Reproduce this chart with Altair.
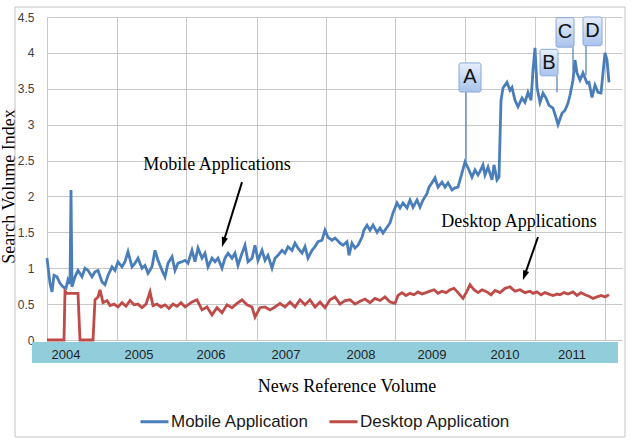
import altair as alt
import pandas as pd

# ---------------- data ----------------
# t = position along the weekly time index, v = Search Volume Index
mobile_t = [47, 50, 52, 54, 57, 60, 63, 66, 68, 70,
            71, 72, 75, 78, 82, 85, 88, 92, 95, 98,
            102, 105, 108, 112, 115, 118, 122, 125, 128, 132,
            135, 138, 142, 145, 148, 152, 155, 158, 162, 165,
            168, 172, 175, 178, 182, 185, 188, 192, 195, 198,
            202, 205, 208, 212, 215, 218, 222, 225, 228, 232,
            235, 238, 242, 245, 248, 252, 255, 258, 262, 265,
            268, 272, 275, 278, 282, 285, 288, 292, 295, 298,
            302, 305, 308, 312, 315, 318, 322, 325, 328, 332,
            335, 338, 340, 343, 347, 349, 352, 355, 358, 362,
            364, 367, 370, 373, 377, 380, 383, 387, 390, 393,
            397, 400, 403, 407, 410, 413, 417, 420, 423, 427,
            429, 432, 435, 438, 442, 445, 448, 452, 455, 458,
            462, 465, 468, 472, 475, 478, 480, 483, 485, 488,
            492, 494, 497, 499, 501, 503, 507, 510, 512, 515,
            518, 522, 525, 528, 531, 533, 535, 537, 540, 543,
            546, 549, 553, 556, 558, 562, 565, 568, 570, 573,
            575, 577, 580, 583, 587, 589, 592, 595, 598, 601,
            603, 605, 607, 609]
mobile_v = [1.14, 0.79, 0.67, 0.90, 0.88, 0.79, 0.74, 0.72, 0.84, 0.78,
            2.09, 0.74, 0.88, 0.97, 0.88, 1.00, 0.97, 0.88, 0.95, 0.97,
            0.81, 0.77, 0.90, 1.02, 0.97, 1.09, 1.02, 1.09, 1.23, 1.02,
            1.07, 1.14, 1.00, 1.04, 0.93, 1.02, 1.25, 1.11, 0.97, 0.88,
            1.07, 1.16, 0.97, 1.07, 1.09, 1.11, 1.07, 1.25, 1.09, 1.28,
            1.14, 1.21, 1.02, 1.14, 1.09, 1.14, 1.00, 1.14, 1.21, 1.14,
            1.21, 1.04, 1.21, 1.32, 1.09, 1.14, 1.32, 1.11, 1.25, 1.11,
            1.18, 1.00, 1.14, 1.18, 1.25, 1.21, 1.30, 1.25, 1.35, 1.28,
            1.21, 1.30, 1.14, 1.25, 1.30, 1.37, 1.39, 1.53, 1.43, 1.39,
            1.42, 1.38, 1.35, 1.32, 1.37, 1.18, 1.35, 1.28, 1.32, 1.43,
            1.53, 1.60, 1.53, 1.60, 1.50, 1.56, 1.49, 1.57, 1.63, 1.77,
            1.91, 1.84, 1.91, 1.84, 1.95, 1.85, 1.95, 1.85, 1.95, 2.04,
            2.13, 2.19, 2.26, 2.13, 2.20, 2.13, 2.19, 2.09, 2.12, 2.13,
            2.33, 2.48, 2.40, 2.27, 2.37, 2.30, 2.35, 2.44, 2.30, 2.41,
            2.23, 2.44, 2.23, 2.27, 3.34, 3.51, 3.59, 3.48, 3.52, 3.34,
            3.25, 3.37, 3.31, 3.45, 3.34, 3.76, 4.07, 3.52, 3.31, 3.44,
            3.37, 3.27, 3.23, 3.10, 3.00, 3.16, 3.20, 3.30, 3.41, 3.62,
            3.90, 3.72, 3.62, 3.72, 3.58, 3.59, 3.38, 3.55, 3.45, 3.44,
            3.72, 4.00, 3.90, 3.59]

desktop_t = [47, 64, 65, 67, 78, 80, 93, 95, 98, 100,
             103, 107, 110, 114, 118, 122, 126, 130, 134, 138,
             142, 146, 150, 153, 157, 161, 165, 169, 173, 177,
             181, 185, 189, 192, 197, 202, 207, 212, 217, 222,
             227, 232, 237, 242, 247, 252, 255, 260, 265, 270,
             275, 280, 285, 290, 295, 300, 305, 310, 315, 320,
             325, 330, 335, 340, 345, 350, 355, 360, 365, 370,
             375, 380, 385, 390, 395, 398, 402, 406, 410, 414,
             418, 422, 426, 430, 434, 438, 442, 446, 450, 454,
             458, 463, 467, 470, 474, 478, 482, 487, 491, 495,
             500, 505, 510, 515, 520, 525, 530, 533, 537, 541,
             545, 549, 553, 557, 560, 564, 568, 573, 577, 581,
             585, 589, 593, 597, 601, 605, 609]
desktop_v = [0.00, 0.00, 0.68, 0.65, 0.65, 0.00, 0.00, 0.56, 0.60, 0.70,
             0.52, 0.55, 0.48, 0.50, 0.46, 0.52, 0.47, 0.55, 0.49, 0.50,
             0.45, 0.50, 0.67, 0.48, 0.50, 0.46, 0.49, 0.44, 0.50, 0.47,
             0.52, 0.46, 0.50, 0.53, 0.56, 0.42, 0.46, 0.35, 0.45, 0.38,
             0.49, 0.45, 0.51, 0.56, 0.49, 0.46, 0.32, 0.45, 0.46, 0.42,
             0.46, 0.51, 0.46, 0.53, 0.46, 0.56, 0.49, 0.56, 0.46, 0.53,
             0.45, 0.56, 0.60, 0.50, 0.55, 0.56, 0.50, 0.54, 0.57, 0.52,
             0.58, 0.55, 0.60, 0.53, 0.51, 0.62, 0.66, 0.62, 0.65, 0.63,
             0.67, 0.64, 0.66, 0.68, 0.70, 0.65, 0.68, 0.66, 0.70, 0.72,
             0.66, 0.58, 0.68, 0.77, 0.70, 0.66, 0.70, 0.67, 0.63, 0.69,
             0.66, 0.72, 0.74, 0.68, 0.70, 0.66, 0.68, 0.65, 0.67, 0.63,
             0.66, 0.64, 0.62, 0.64, 0.63, 0.66, 0.64, 0.67, 0.62, 0.66,
             0.63, 0.61, 0.58, 0.60, 0.62, 0.60, 0.63]

series_names = ["Mobile Application", "Desktop Application"]
series_colors = ["#4a7ebb", "#be4b48"]

years = ["2004", "2005", "2006", "2007", "2008", "2009", "2010", "2011"]
year_t = [66, 139, 211, 286, 361, 432, 505, 572]
grid_t = [47, 117, 186, 257, 326, 395, 465, 535, 605]
y_ticks = [0, 0.5, 1, 1.5, 2, 2.5, 3, 3.5, 4, 4.5]

# callout boxes A-D
box_label = ["A", "B", "C", "D"]
box_t1 = [459, 540, 556, 583]
box_t2 = [481, 558, 574, 602]
box_v1 = [3.86, 4.05, 4.49, 4.50]
box_v2 = [3.455, 3.68, 4.08, 4.10]
box_line_t = [466, 557, 573, 586]
box_line_v2 = [2.47, 3.45, 3.76, 3.69]

# text annotations with arrows
ann_text = ["Mobile Applications", "Desktop Applications"]
ann_t = [217, 519]
ann_v = [2.44, 1.64]
arrow_t1 = [242, 538]
arrow_v1 = [2.20, 1.435]
arrow_t2 = [223.5, 524.6]
arrow_v2 = [1.365, 0.90]
arrow_angle = [197, 199]

# ---------------- build tables ----------------
assert len(mobile_t) == len(mobile_v)
assert len(desktop_t) == len(desktop_v)
lines_df = pd.concat([
    pd.DataFrame({"t": mobile_t, "v": mobile_v, "series": series_names[0]}),
    pd.DataFrame({"t": desktop_t, "v": desktop_v, "series": series_names[1]}),
])
years_df = pd.DataFrame({"t": year_t, "year": years})
box_df = pd.DataFrame({"t": box_t1, "t2": box_t2, "v": box_v1, "v2": box_v2,
                       "label": box_label,
                       "tc": [(a + b) / 2 for a, b in zip(box_t1, box_t2)],
                       "vc": [(a + b) / 2 for a, b in zip(box_v1, box_v2)]})
callout_df = pd.DataFrame({"t": box_line_t, "v": box_v2, "v2": box_line_v2})
ann_df = pd.DataFrame({"t": ann_t, "v": ann_v, "text": ann_text})
arrow_df = pd.DataFrame({"t": arrow_t1, "v": arrow_v1, "t2": arrow_t2,
                         "v2": arrow_v2, "ang": arrow_angle})
one = pd.DataFrame({"k": [0]})

GRID = "#c8c8c8"
xscale = alt.Scale(domain=[47, 622], nice=False, zero=False)
yscale = alt.Scale(domain=[0, 4.5], nice=False)
xaxis = alt.Axis(values=grid_t, labels=False, ticks=False, domain=False,
                 grid=True, gridColor=GRID, gridWidth=1, title=None)
yaxis = alt.Axis(values=y_ticks, format="~g", ticks=False, domain=False,
                 grid=True, gridColor=GRID, gridWidth=1,
                 labelFont="Liberation Sans", labelFontSize=12,
                 labelColor="#404040", labelPadding=13,
                 title="Search Volume Index", titleFont="Liberation Serif",
                 titleFontSize=18, titleFontWeight="normal", titleColor="#000000",
                 titleX=-33, titleY=169, titleBaseline="alphabetic",
                 titleAngle=270)


def X(field="t"):
    return alt.X(f"{field}:Q", scale=xscale, axis=xaxis)


def Y(field="v"):
    return alt.Y(f"{field}:Q", scale=yscale, axis=yaxis)


frame = alt.Chart(one).mark_rect(fillOpacity=0, stroke="#c4c4c4", strokeWidth=1).encode(
    x=alt.value(-32), x2=alt.value(578), y=alt.value(-10), y2=alt.value(420))

band = alt.Chart(one).mark_rect(color="#92cddc").encode(
    x=alt.value(-15), x2=alt.value(571), y=alt.value(325), y2=alt.value(346))

year_text = alt.Chart(years_df).mark_text(
    font="Liberation Sans", fontSize=13, color="#1f1f1f", baseline="middle").encode(
    x=X(), y=alt.value(338), text="year:N")

x_title = alt.Chart(one).mark_text(
    font="Liberation Serif", fontSize=18, color="#000000", baseline="middle").encode(
    x=alt.value(300), y=alt.value(370), text=alt.value("News Reference Volume"))

lines = alt.Chart(lines_df).mark_line(strokeWidth=2.8, clip=False).encode(
    x=X(), y=Y(),
    color=alt.Color("series:N",
                    scale=alt.Scale(domain=series_names, range=series_colors),
                    legend=alt.Legend(orient="none", legendX=92, legendY=389,
                                      direction="horizontal", title=None,
                                      symbolType="stroke", symbolSize=784,
                                      symbolStrokeWidth=3,
                                      labelFont="Liberation Sans",
                                      labelFontSize=17, labelColor="#1a1a1a",
                                      labelOffset=1, columnPadding=14,
                                      padding=0)),
    order="t:Q")

callouts = alt.Chart(callout_df).mark_rule(color="#4a7ebb", strokeWidth=1.2).encode(
    x=X(), y=Y(), y2="v2:Q")

boxes = alt.Chart(box_df).mark_rect(
    fill=alt.LinearGradient(gradient="linear",
                            stops=[alt.GradientStop(color="#e6eefb", offset=0),
                                   alt.GradientStop(color="#a9c3ec", offset=1)],
                            x1=0, x2=0, y1=0, y2=1),
    stroke="#8aa8da", strokeWidth=1, cornerRadius=2).encode(
    x=X(), x2="t2:Q", y=Y(), y2="v2:Q")

box_text = alt.Chart(box_df).mark_text(
    font="Liberation Sans", fontSize=20, color="#111111", baseline="middle").encode(
    x=X("tc"), y=Y("vc"), text="label:N")

ann = alt.Chart(ann_df).mark_text(
    font="Liberation Serif", fontSize=18, color="#000000", baseline="middle").encode(
    x=X(), y=Y(), text="text:N")

arrow_shaft = alt.Chart(arrow_df).mark_rule(color="#000000", strokeWidth=2).encode(
    x=X(), y=Y(), x2="t2:Q", y2="v2:Q")

arrow_head = alt.Chart(arrow_df).mark_point(
    shape="M0,-1L0.6,0.9L-0.6,0.9Z", filled=True, color="#000000",
    size=110, opacity=1).encode(
    x=X("t2"), y=Y("v2"), angle=alt.Angle("ang:Q", scale=None))

chart = alt.layer(
    frame, band, year_text, x_title, lines, callouts, boxes, box_text,
    ann, arrow_shaft, arrow_head
).properties(
    width=575, height=323,
    autosize=alt.AutoSizeParams(type="none"),
    padding={"left": 47, "top": 17, "right": 12, "bottom": 108},
    background="#ffffff",
).configure_view(stroke=None)

chart.save("out.html", embed_options={"renderer": "svg", "actions": False})
